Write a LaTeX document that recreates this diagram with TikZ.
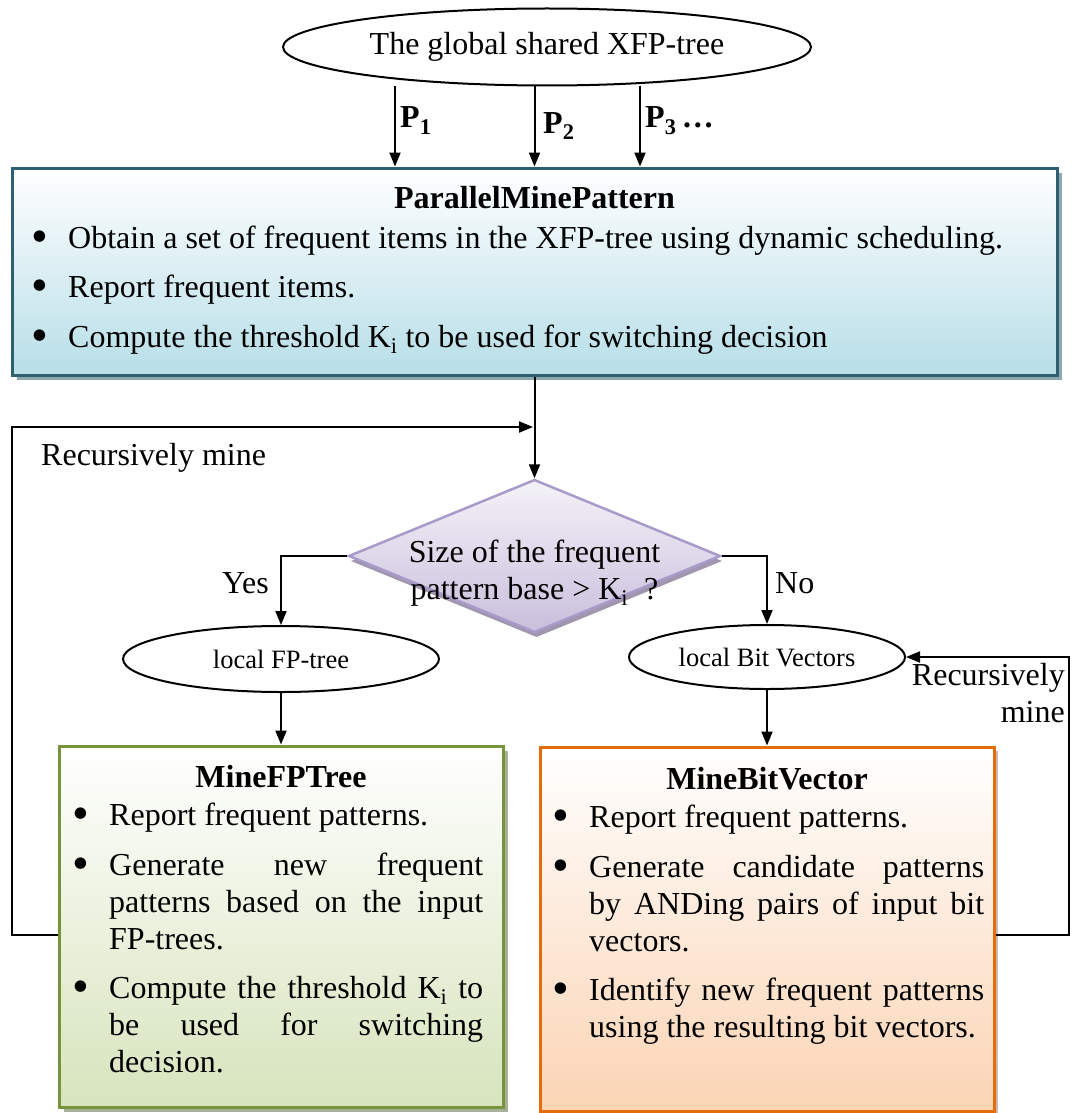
\documentclass[tikz,border=0pt]{standalone}
\usepackage{fontspec}
\setmainfont{Liberation Serif}
\usetikzlibrary{arrows.meta,shapes.geometric,shadows}
\setlength{\parindent}{0pt}
\tolerance=9999
\hbadness=10000

\definecolor{pmpline}{HTML}{2E6070}
\definecolor{pmpfill}{HTML}{B7DEE8}
\definecolor{pmpshadow}{HTML}{8EA8B0}
\definecolor{fpline}{HTML}{77933C}
\definecolor{fpfill}{HTML}{D7E4BD}
\definecolor{fpshadow}{HTML}{A7B199}
\definecolor{bvline}{HTML}{E46C0A}
\definecolor{bvfill}{HTML}{FBD4B4}
\definecolor{bvshadow}{HTML}{C9BBB2}
\definecolor{dialine}{HTML}{A89BC9}
\definecolor{diatop}{HTML}{F4F2F8}
\definecolor{diafill}{HTML}{C9BEDC}
\definecolor{diashadow}{HTML}{A097AE}

\newcommand{\bigfont}{\fontsize{32}{37}\selectfont}
\newcommand{\smallfont}{\fontsize{26.5}{30}\selectfont}
\newcommand{\bul}{\leavevmode\llap{\raisebox{-4pt}{\scalebox{1.5}{\textbullet}}\hskip 19.5pt}}

\tikzset{
  arr/.style={line width=2pt,-{Triangle[length=14pt,width=11pt]}},
  oval/.style={ellipse,draw,line width=2pt,inner sep=0pt},
  panel/.style={rectangle,line width=3pt,inner sep=0pt},
  txt/.style={inner sep=0pt,font=\bigfont},
  para/.style={txt,anchor=north west,align=justify},
  heading/.style={txt,anchor=base,font=\bigfont\bfseries},
}

\begin{document}
\begin{tikzpicture}[x=1pt,y=-1pt]
\useasboundingbox (0,0) rectangle (1071,1113);

% ---- shapes ----
\node[oval,font=\bigfont,minimum width=528pt,minimum height=77pt] (xfp) at (547,47) {The global shared XFP-tree};

\node[panel,draw=pmpline,top color=white,bottom color=pmpfill,
      drop shadow={shadow xshift=5pt,shadow yshift=-5pt,fill=pmpshadow,fill opacity=1},
      minimum width=1045pt,minimum height=207pt] (pmp) at (534.5,271.5) {};

\node[diamond,draw=dialine,line width=2.5pt,inner sep=0pt,top color=diatop,bottom color=diafill,
      drop shadow={shadow xshift=2pt,shadow yshift=-5pt,fill=diashadow,fill opacity=1},
      minimum width=372pt,minimum height=153pt] (dia) at (534.5,556) {};

\node[oval,font=\smallfont,minimum width=316pt,minimum height=66pt] (fpell) at (281,659) {local FP-tree};
\node[oval,font=\smallfont,minimum width=276pt,minimum height=64pt] (bvell) at (767,657) {local Bit Vectors};

\node[panel,draw=fpline,top color=white,bottom color=fpfill,
      drop shadow={shadow xshift=5pt,shadow yshift=-5pt,fill=fpshadow,fill opacity=1},
      minimum width=444pt,minimum height=361pt] (fp) at (281,926.5) {};
\node[panel,draw=bvline,top color=white,bottom color=bvfill,
      drop shadow={shadow xshift=4pt,shadow yshift=-4pt,fill=bvshadow,fill opacity=1},
      minimum width=454pt,minimum height=364pt] (bv) at (767,929) {};

% ---- texts ----
\node[txt,anchor=base west,font=\bigfont\bfseries] (lp1) at (400,128) {P\textsubscript{1}};
\node[txt,anchor=base west,font=\bigfont\bfseries] (lp2) at (543,133) {P\textsubscript{2}};
\node[txt,anchor=base west,font=\bigfont\bfseries] (lp3) at (645,128) {P\textsubscript{3}\,\dots};

\node[heading] (pmptitle) at (534.5,208) {ParallelMinePattern};
\node[txt,anchor=base west] (pb1) at (68,248) {\bul Obtain a set of frequent items in the XFP-tree using dynamic scheduling.};
\node[txt,anchor=base west] (pb2) at (68,297) {\bul Report frequent items.};
\node[txt,anchor=base west] (pb3) at (68,347) {\bul Compute the threshold K\textsubscript{i} to be used for switching decision};

\node[txt,anchor=base west] (recL) at (41,465) {Recursively mine};
\node[txt,anchor=north,align=center] (dtext) at (534.5,536) {\strut Size of the frequent\\pattern base > K\textsubscript{i}\ \ ?};
\node[txt,anchor=base west] (yes) at (222,593) {Yes};
\node[txt,anchor=base west] (no) at (775,593) {No};
\node[txt,anchor=north east,align=right] (recR) at (1065,659) {\strut Recursively\\mine};

\node[heading] (fptitle) at (281,787) {MineFPTree};
\node[para,text width=374pt] (fb1) at (109,799) {\bul\strut Report frequent patterns.};
\node[para,text width=374pt] (fb2) at (109,849) {\bul\strut Generate new frequent\linebreak patterns based on the input\linebreak FP-trees.};
\node[para,text width=374pt] (fb3) at (109,972) {\bul\strut Compute the threshold K\textsubscript{i} to\linebreak be used for switching\linebreak decision.};

\node[heading] (bvtitle) at (767,789) {MineBitVector};
\node[para,text width=395pt] (bb1) at (589,801) {\bul\strut Report frequent patterns.};
\node[para,text width=395pt] (bb2) at (589,851) {\bul\strut Generate candidate patterns\linebreak by ANDing pairs of input bit\linebreak vectors.};
\node[para,text width=395pt] (bb3) at (589,974) {\bul\strut Identify new frequent patterns\linebreak using the resulting bit vectors.};

% ---- helper points for the connectors ----
\coordinate (p1) at (395,0);
\coordinate (p2) at (534.5,0);
\coordinate (p3) at (640,0);
\coordinate (merge) at (533,427);
\coordinate (lpy) at (0,935);
\coordinate (lx) at (12,0);
\coordinate (rx) at (1069,0);

% ---- connectors ----
\draw[arr] (xfp.south -| p1) -- (pmp.north -| p1);
\draw[arr] (xfp.south -| p2) -- (pmp.north);
\draw[arr] (xfp.south -| p3) -- (pmp.north -| p3);
\draw[arr] (pmp.south) -- (dia.north);
\draw[arr] (dia.west) -| (fpell.north);
\draw[arr] (dia.east) -| (bvell.north);
\draw[arr] (fpell.south) -- (fp.north);
\draw[arr] (bvell.south) -- (bv.north);
\draw[arr] (fp.west |- lpy) -| (lx |- merge) -- (merge);
\draw[arr] (bv.east |- lpy) -| (rx |- bvell.east) -- (bvell.east);
\end{tikzpicture}
\end{document}
